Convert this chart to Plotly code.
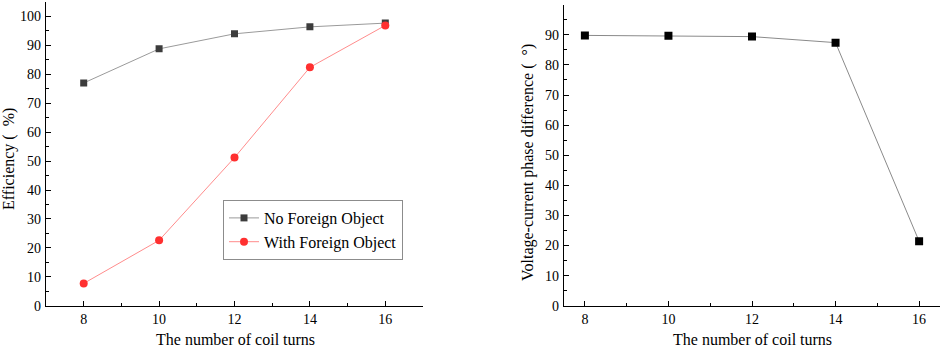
import plotly.graph_objects as go

turns = [8, 10, 12, 14, 16]
eff_no_foreign = [77.0, 88.8, 94.0, 96.4, 97.7]
eff_with_foreign = [7.7, 22.6, 51.2, 82.4, 96.9]
phase_diff = [89.8, 89.7, 89.4, 87.4, 21.4]

x_ticks = [8, 10, 12, 14, 16]
y_ticks = [0, 10, 20, 30, 40, 50, 60, 70, 80, 90, 100]

FONT = "Liberation Serif"
W, H = 941, 348

fig = go.Figure()
fig.add_trace(go.Scatter(x=turns, y=eff_no_foreign, mode="lines+markers",
                         name="No Foreign Object",
                         line=dict(color="#9a9a9a", width=1),
                         marker=dict(symbol="square", size=7, color="#3c3c3c"),
                         xaxis="x", yaxis="y"))
fig.add_trace(go.Scatter(x=turns, y=eff_with_foreign, mode="lines+markers",
                         name="With Foreign Object",
                         line=dict(color="#ff8c8c", width=1),
                         marker=dict(symbol="circle", size=8, color="#ff3030"),
                         xaxis="x", yaxis="y"))
fig.add_trace(go.Scatter(x=turns, y=phase_diff, mode="lines+markers",
                         showlegend=False,
                         line=dict(color="#8a8a8a", width=1),
                         marker=dict(symbol="square", size=8, color="#000000"),
                         xaxis="x2", yaxis="y2"))

bottom = 1 - 305.7 / H
common = dict(showline=True, linecolor="black", linewidth=1.3, ticks="inside",
              ticklen=5, tickwidth=1, tickcolor="black", showgrid=False,
              zeroline=False, mirror=False, automargin=False,
              tickfont=dict(family=FONT, size=14, color="black"))

fig.update_layout(
    width=W, height=H,
    margin=dict(l=0, r=0, t=0, b=0),
    paper_bgcolor="white", plot_bgcolor="white",
    font=dict(family=FONT, color="black"),
    xaxis=dict(domain=[46 / W, 423 / W], range=[7, 17], tickvals=x_ticks,
               minor=dict(dtick=1, tick0=7, ticks="inside", ticklen=3, tickcolor="black"),
               anchor="y", ticklabelstandoff=0, **common),
    yaxis=dict(domain=[bottom, 1 - 2 / H], range=[0, 105], tickvals=y_ticks,
               minor=dict(dtick=5, tick0=0, ticks="inside", ticklen=3, tickcolor="black"),
               anchor="x", ticklabelstandoff=1, **common),
    xaxis2=dict(domain=[564 / W, 940 / W], range=[7.5, 16.5], tickvals=x_ticks,
                minor=dict(dtick=1, tick0=7, ticks="inside", ticklen=3, tickcolor="black"),
                anchor="y2", ticklabelstandoff=0, **common),
    yaxis2=dict(domain=[bottom, 1 - 4.7 / H], range=[0, 100], tickvals=y_ticks,
                minor=dict(dtick=5, tick0=0, ticks="inside", ticklen=3, tickcolor="black"),
                anchor="x2", ticklabelstandoff=1, **common),
    legend=dict(x=223 / W, y=1 - 200 / H, xanchor="left", yanchor="top",
                bordercolor="#8c8c8c", borderwidth=1, bgcolor="white",
                font=dict(family=FONT, size=16, color="black"),
                tracegroupgap=0, itemwidth=30),
    showlegend=True,
)

annos = [
    dict(text="The number of coil turns", x=235 / W, y=1 - 339 / H),
    dict(text="The number of coil turns", x=752 / W, y=1 - 339 / H),
    dict(text="Efficiency (  %)", x=9 / W, y=1 - 159 / H, textangle=-90),
    dict(text="Voltage-current phase difference (  °)", x=528 / W, y=1 - 163 / H, textangle=-90),
]
for a in annos:
    fig.add_annotation(xref="paper", yref="paper", xanchor="center", yanchor="middle",
                       showarrow=False, font=dict(family=FONT, size=16, color="black"), **a)

fig.write_html("out.html", config={"displayModeBar": False},
               post_script="document.body.style.margin='0';document.body.style.padding='0';"
                           "document.body.style.overflow='hidden';")
